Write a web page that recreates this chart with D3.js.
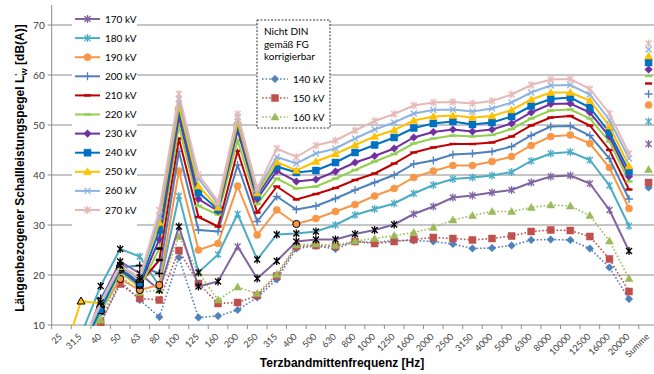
<!DOCTYPE html>
<html>
<head>
<meta charset="utf-8">
<script src="https://cdn.jsdelivr.net/npm/d3@7"></script>
<style>
  body { margin: 0; background: #fff; }
  svg text { font-family: Lato, 'Liberation Sans', sans-serif; }
</style>
</head>
<body>
<div id="chart"></div>
<script>
// Terzbänder + Summe
var categories = ['25', '31,5', '40', '50', '63', '80', '100', '125', '160', '200', '250', '315', '400', '500',
  '630', '800', '1000', '1250', '1600', '2000', '2500', '3150', '4000', '5000', '6300', '8000', '10000',
  '12500', '16000', '20000', 'Summe']

var yTicks = [10, 20, 30, 40, 50, 60, 70]

// Pegel je Spannung (letzter Wert = Summe)
var v170 = [null, 5, 15, 22.7, 20.3, 17, 29.7, 17.7, 18.7, 25.7, 19.3, 22.8, 26.7, 27.1, 27.1, 28.2, 29, 30.1, 32.2, 33.7, 35.5, 35.9, 36.5, 37, 38.5, 39.7, 39.9, 38.3, 33, 24.8, 46.2]
var v180 = [null, 8, 17.8, 25.2, 23.7, 17.8, 35.8, 20.5, 24.1, 32.2, 23.1, 28.1, 28.3, 28.7, 30, 32, 33.2, 34.3, 36.3, 38, 39.2, 39.5, 39.9, 40.6, 42.8, 44.3, 44.6, 43, 37.9, 29.8, 50.7]
var v190 = [null, 4, 12.7, 19.2, 17, 18, 40.8, 25, 26.3, 37.8, 28, 33, 30.2, 31.3, 32.7, 34.1, 35.8, 37.3, 39.5, 40.8, 41.9, 41.9, 42.7, 43.7, 45.9, 47.7, 48, 46.3, 41.5, 33.3, 54]
var v200 = [null, 4.5, 15.3, 21.5, 21.9, 20.3, 44.7, 29, 28.7, 42, 30.7, 35.7, 33.1, 33.8, 35.3, 37, 38.5, 40, 42.2, 42.9, 44.1, 44.3, 44.7, 45.7, 47.9, 49.7, 49.8, 47.9, 43.3, 35.2, 56.2]
var v210 = [null, 4, 12.8, 21.4, 18.3, 23, 47.3, 31.6, 29.7, 44.8, 32.5, 37.7, 35.1, 36.2, 37.4, 39, 40.3, 42.3, 44.5, 45.5, 46.2, 46.2, 46.5, 47.7, 49.9, 51.5, 51.8, 49.9, 45, 37.1, 58.3]
var v220 = [null, 4, 12.5, 20.6, 17.5, 25.3, 49.8, 33.8, 32.1, 46.9, 34.2, 39.3, 37.3, 37.7, 39.3, 41, 42.7, 44.2, 46.3, 47.3, 47.9, 47.7, 48, 49.2, 51.3, 52.9, 53.1, 51.3, 46.7, 38.7, 59.8]
var v230 = [null, 4.5, 13.5, 21, 18, 27.1, 51.7, 35.2, 32.8, 48.9, 35.2, 40.8, 38.7, 39.1, 40.7, 42.5, 43.8, 45.3, 47.5, 48.6, 49.1, 48.7, 49.1, 50.3, 52.5, 54.2, 54.3, 52.5, 47.7, 39.7, 61.1]
var v240 = [null, 5, 13, 21.3, 18.3, 29, 52.9, 36.5, 33.1, 49.8, 35.9, 41.7, 40.5, 40.9, 42.5, 44.5, 46, 47.5, 49.4, 50.3, 50.7, 50.1, 50.5, 51.7, 53.8, 55.2, 55.5, 53.5, 48.5, 40.7, 62.5]
var v250 = [2.6, 14.8, 14.3, 21.5, 19.2, 30.5, 53.9, 37.8, 33.5, 50.6, 36.4, 42.6, 40.9, 42.7, 44.2, 46, 47.7, 49, 50.9, 51.7, 51.9, 51.5, 51.8, 53, 55.1, 56.5, 56.5, 54.9, 49.8, 41.8, 63.8]
var v260 = [null, 5.5, 14, 21.8, 19, 31.7, 55.2, 39.3, 34.2, 51.6, 36.8, 43.6, 42.3, 44.3, 45.3, 47.3, 49.1, 50.5, 52.3, 53, 53.1, 52.7, 53.3, 54.5, 56.5, 57.9, 58, 56.1, 51, 43.3, 65.1]
var v270 = [null, 6, 14.5, 22, 19.5, 33, 56.2, 40.1, 34.7, 52.2, 37.3, 45.3, 43.6, 45.9, 46.9, 48.9, 50.8, 52.2, 53.9, 54.5, 54.6, 54.3, 54.8, 56.1, 58, 59.1, 59.2, 57.2, 52.3, 44.3, 66.3]
var v140 = [null, 1.5, 10.2, 18.8, 15, 11.6, 23.5, 11.5, 11.8, 13, 15.5, 19.1, 25.3, 25.8, 25.2, 26.7, 26.5, 26.9, 26.9, 26.7, 26.2, 25.3, 25.4, 25.9, 27, 27.1, 27, 25.3, 21.5, 15.2, 37.5]
var v150 = [null, 2, 10.5, 18.2, 15.3, 15, 24.9, 18.3, 14.3, 14.5, 15.9, 19.8, 25.7, 25.9, 25.7, 26.7, 26.3, 26.7, 27.1, 27.5, 27.3, 27, 27.3, 27.8, 28.7, 29, 28.9, 27.7, 23.2, 16.7, 38.5]
var v160 = [null, 3, 11, 20, 16.5, 17, 27.7, 20.5, 15, 17.6, 16.3, 20.1, 26, 26.2, 25.9, 26.8, 27.3, 27.9, 28.5, 29.5, 31, 31.9, 32.7, 32.7, 33.5, 34, 33.8, 31.9, 26.8, 19.3, 41.1]

// Punkte mit schwarzer Markierung (Index in categories)
var blk170 = [2, 3, 4, 5, 6, 7, 8, 10, 11, 12, 13, 14, 15, 16, 17, 29]
var blk180 = [2, 3, 7, 10, 11, 12, 13]
var blk190 = [2, 3, 4, 5, 12]
var blk200 = [2, 3, 4, 5]
var blkLow = [2, 3, 4]
var blk250 = [1, 2, 3, 4]

var width = 654
var height = 374
var left = 51.7
var bottom = 325
var bandW = 19.57

var solid = [
  { name: '170 kV', values: v170, color: '#8064A2', marker: 'star', black: blk170 },
  { name: '180 kV', values: v180, color: '#4BACC6', marker: 'star', black: blk180 },
  { name: '190 kV', values: v190, color: '#F79646', marker: 'circle', black: blk190 },
  { name: '200 kV', values: v200, color: '#4F81BD', marker: 'plus', black: blk200 },
  { name: '210 kV', values: v210, color: '#C00000', marker: 'dash', black: blk200 },
  { name: '220 kV', values: v220, color: '#92D050', marker: 'dash', black: blk200 },
  { name: '230 kV', values: v230, color: '#7030A0', marker: 'diamond', black: blkLow },
  { name: '240 kV', values: v240, color: '#0070C0', marker: 'square', black: blkLow },
  { name: '250 kV', values: v250, color: '#FFC000', marker: 'triangle', black: blk250 },
  { name: '260 kV', values: v260, color: '#8DB4E2', marker: 'x', black: blkLow },
  { name: '270 kV', values: v270, color: '#E6B9B8', marker: 'star', black: blkLow }
]
var dotted = [
  { name: '140 kV', values: v140, color: '#4F81BD', marker: 'diamond', black: [] },
  { name: '150 kV', values: v150, color: '#C0504D', marker: 'square', black: [] },
  { name: '160 kV', values: v160, color: '#9BBB59', marker: 'triangle', black: [] }
]

var x = d3.scaleBand().domain(categories).range([left, left + bandW * categories.length])
var y = d3.scaleLinear().domain([10, 74]).range([bottom, 5])

var svg = d3.select('#chart').append('svg')
  .attr('width', width)
  .attr('height', height)

svg.append('defs').append('clipPath').attr('id', 'plot-clip')
  .append('rect')
  .attr('x', left).attr('y', 0)
  .attr('width', width).attr('height', bottom + 1)

// Gitternetz
svg.append('g').selectAll('line')
  .data(yTicks.slice(1))
  .enter().append('line')
  .attr('x1', left - 4).attr('x2', width)
  .attr('y1', function (d) { return y(d) })
  .attr('y2', function (d) { return y(d) })
  .style('stroke', '#8c8c8c')
  .style('stroke-width', '1px')

// Achsen
svg.append('line')
  .attr('x1', left).attr('x2', left)
  .attr('y1', 5).attr('y2', bottom)
  .style('stroke', '#8c8c8c')
svg.append('line')
  .attr('x1', left - 4).attr('x2', width)
  .attr('y1', bottom).attr('y2', bottom)
  .style('stroke', '#8c8c8c')

svg.append('g').selectAll('line')
  .data(categories)
  .enter().append('line')
  .attr('x1', function (d) { return x(d) + bandW })
  .attr('x2', function (d) { return x(d) + bandW })
  .attr('y1', bottom).attr('y2', bottom + 4)
  .style('stroke', '#8c8c8c')
svg.append('line')
  .attr('x1', left).attr('x2', left)
  .attr('y1', bottom).attr('y2', bottom + 4)
  .style('stroke', '#8c8c8c')

svg.append('g').selectAll('text')
  .data(yTicks)
  .enter().append('text')
  .attr('x', left - 7)
  .attr('y', function (d) { return y(d) })
  .attr('dy', '0.35em')
  .attr('text-anchor', 'end')
  .style('font-size', '10px')
  .style('fill', '#404040')
  .text(function (d) { return d })

svg.append('g').selectAll('text')
  .data(categories)
  .enter().append('text')
  .attr('transform', function (d) {
    return 'translate(' + (x(d) + bandW / 2 - 1) + ',' + (bottom + 10) + ')rotate(-45)'
  })
  .attr('text-anchor', 'end')
  .attr('dy', '0.35em')
  .style('font-size', '9px')
  .style('fill', '#404040')
  .text(function (d) { return d })

// Achsentitel
svg.append('text')
  .attr('x', 342)
  .attr('y', 367)
  .attr('text-anchor', 'middle')
  .style('font-family', "'Liberation Sans', Arial, sans-serif")
  .style('font-weight', 'bold')
  .style('font-size', '12px')
  .text('Terzbandmittenfrequenz [Hz]')

var yTitle = svg.append('text')
  .attr('transform', 'translate(24,168)rotate(-90)')
  .attr('text-anchor', 'middle')
  .style('font-family', "'Liberation Sans', Arial, sans-serif")
  .style('font-weight', 'bold')
  .style('font-size', '12px')
yTitle.append('tspan').text('Längenbezogener Schallleistungspegel L')
yTitle.append('tspan').attr('dy', -4).style('font-size', '8px').text("'")
yTitle.append('tspan').attr('dx', -2).attr('dy', 7).style('font-size', '8px').text('W')
yTitle.append('tspan').attr('dy', -3).text(' [dB(A)]')

function markerPath (type) {
  switch (type) {
    case 'x': return 'M-3,-3L3,3M-3,3L3,-3'
    case 'star': return 'M-3,-3L3,3M-3,3L3,-3M0,-4L0,4'
    case 'plus': return 'M-4,0L4,0M0,-4L0,4'
    case 'dash': return 'M-3.5,-1.2h7v2.4h-7Z'
    case 'square': return 'M-3.5,-3.5h7v7h-7Z'
    case 'triangle': return 'M0,-4L4,3L-4,3Z'
    case 'diamond': return 'M0,-3.8L3.8,0L0,3.8L-3.8,0Z'
    case 'circle': return 'M3.6,0A3.6,3.6,0,1,1,-3.6,0A3.6,3.6,0,1,1,3.6,0Z'
  }
}

function isLineMarker (type) {
  return type == 'x' || type == 'star' || type == 'plus'
}

function styleMarker (sel, s, isBlack) {
  if (isLineMarker(s.marker)) {
    sel.style('fill', 'none')
      .style('stroke', isBlack ? '#000' : s.color)
      .style('stroke-width', '1.3px')
  } else if (s.marker == 'dash') {
    sel.style('fill', isBlack ? '#000' : s.color).style('stroke', 'none')
  } else {
    sel.style('fill', s.color)
      .style('stroke', isBlack ? '#000' : s.color)
      .style('stroke-width', isBlack ? '1px' : '0.5px')
  }
}

var line = d3.line()
  .defined(function (d) { return d.v != null && d.i < categories.length - 1 })
  .x(function (d) { return x(d.c) + bandW / 2 })
  .y(function (d) { return y(d.v) })

var plot = svg.append('g').attr('clip-path', 'url(#plot-clip)')

function drawSeries (s, isDotted) {
  var pts = s.values.map(function (v, i) { return { c: categories[i], v: v, i: i } })
  var g = plot.append('g')
  g.append('path')
    .datum(pts)
    .attr('d', line)
    .style('fill', 'none')
    .style('stroke', s.color)
    .style('stroke-width', isDotted ? '1.6px' : '2px')
    .style('stroke-dasharray', isDotted ? '1.6,2' : null)
  g.selectAll('path.mk')
    .data(pts.filter(function (d) { return d.v != null }))
    .enter().append('path')
    .attr('class', 'mk')
    .attr('d', markerPath(s.marker))
    .attr('transform', function (d) { return 'translate(' + (x(d.c) + bandW / 2) + ',' + y(d.v) + ')' })
    .each(function (d) {
      styleMarker(d3.select(this), s, s.black.indexOf(d.i) >= 0)
    })
}

dotted.forEach(function (s) { drawSeries(s, true) })
solid.forEach(function (s) { drawSeries(s, false) })

// Legende links
var leg = svg.append('g')
leg.append('rect')
  .attr('x', 72).attr('y', 8)
  .attr('width', 65).attr('height', 220)
  .style('fill', '#fff')
solid.forEach(function (s, i) {
  var ly = 19 + i * 19.1
  leg.append('line')
    .attr('x1', 75).attr('x2', 100)
    .attr('y1', ly).attr('y2', ly)
    .style('stroke', s.color)
    .style('stroke-width', '2px')
  var m = leg.append('path')
    .attr('d', markerPath(s.marker))
    .attr('transform', 'translate(87.5,' + ly + ')')
  styleMarker(m, s, false)
  leg.append('text')
    .attr('x', 105).attr('y', ly)
    .attr('dy', '0.35em')
    .style('font-size', '10px')
    .style('fill', '#000')
    .text(s.name)
})

// Legende "Nicht DIN"
var leg2 = svg.append('g')
leg2.append('rect')
  .attr('x', 257).attr('y', 20)
  .attr('width', 73).attr('height', 108)
  .style('fill', '#fff')
  .style('stroke', '#000')
  .style('stroke-width', '0.8px')
  .style('stroke-dasharray', '2,1.5')
var noteLines = ['Nicht DIN', 'gemäß FG', 'korrigierbar']
noteLines.forEach(function (t, i) {
  leg2.append('text')
    .attr('x', 264).attr('y', 35 + i * 12.7)
    .style('font-size', '10px')
    .text(t)
})
dotted.forEach(function (s, i) {
  var ly = 79 + i * 19
  leg2.append('line')
    .attr('x1', 262).attr('x2', 288)
    .attr('y1', ly).attr('y2', ly)
    .style('stroke', s.color)
    .style('stroke-width', '1.6px')
    .style('stroke-dasharray', '1.6,2')
  var m = leg2.append('path')
    .attr('d', markerPath(s.marker))
    .attr('transform', 'translate(275,' + ly + ')')
  styleMarker(m, s, false)
  leg2.append('text')
    .attr('x', 293).attr('y', ly)
    .attr('dy', '0.35em')
    .style('font-size', '10px')
    .text(s.name)
})
</script>
</body>
</html>
